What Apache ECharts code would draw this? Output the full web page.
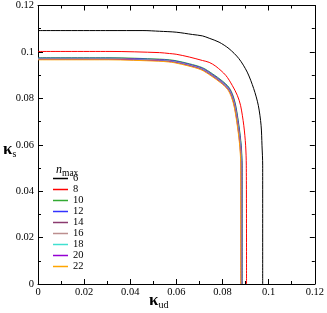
<!DOCTYPE html>
<html><head><meta charset="utf-8">
<script src="https://cdn.jsdelivr.net/npm/echarts@6/dist/echarts.min.js"></script>
<style>html,body{margin:0;padding:0;background:#fff}#c{width:327px;height:313px}</style>
</head><body><div id="c"></div>
<script>
// tick values
var xTicks = [0, 0.02, 0.04, 0.06, 0.08, 0.1, 0.12];
var yTicks = [0, 0.02, 0.04, 0.06, 0.08, 0.1, 0.12];
var nmax = ['6', '8', '10', '12', '14', '16', '18', '20', '22'];
var colors = ['#000000', '#ff0000', '#33aa33', '#3333ff', '#8b3a6f', '#bc8f8f', '#40e0d0', '#9400d3', '#ffa500'];

// kappa_ud (x) and kappa_s (y) for each n_max
var kud6 = [0, 0.0312, 0.0455, 0.0527, 0.0599, 0.0670, 0.0713, 0.0742, 0.0785, 0.0828, 0.0871, 0.0907, 0.0935, 0.0955, 0.0967, 0.0971, 0.0974, 0.0974];
var ks6  = [0.1092, 0.1092, 0.1092, 0.1089, 0.1085, 0.1075, 0.1069, 0.1059, 0.1042, 0.1014, 0.0971, 0.0913, 0.0842, 0.0770, 0.0684, 0.0598, 0.0512, 0];
var kud8 = [0, 0.0312, 0.0527, 0.0570, 0.0599, 0.0656, 0.0713, 0.0742, 0.0771, 0.0814, 0.0842, 0.0864, 0.0878, 0.0892, 0.0900, 0.0903, 0.0904];
var ks8  = [0.1002, 0.1002, 0.0997, 0.0993, 0.0990, 0.0978, 0.0963, 0.0955, 0.0938, 0.0899, 0.0856, 0.0813, 0.0770, 0.0684, 0.0598, 0.0512, 0];
var kud10 = [0, 0.0312, 0.0527, 0.0570, 0.0599, 0.0656, 0.0713, 0.0756, 0.0799, 0.0828, 0.0845, 0.0857, 0.0871, 0.0881, 0.0885, 0.0885];
var ks10  = [0.0975, 0.0975, 0.0969, 0.0966, 0.0962, 0.0949, 0.0932, 0.0906, 0.0875, 0.0847, 0.0813, 0.0770, 0.0684, 0.0598, 0.0512, 0];
var kud12 = [0, 0.0311, 0.0526, 0.0569, 0.0598, 0.0655, 0.0712, 0.0755, 0.0798, 0.0827, 0.0844, 0.0856, 0.0870, 0.0880, 0.0884, 0.0884];
var ks12  = [0.0973, 0.0973, 0.0967, 0.0964, 0.0960, 0.0947, 0.0930, 0.0904, 0.0873, 0.0845, 0.0811, 0.0768, 0.0682, 0.0596, 0.0510, 0];
var kud14 = [0, 0.0310, 0.0525, 0.0568, 0.0597, 0.0654, 0.0711, 0.0754, 0.0797, 0.0826, 0.0843, 0.0855, 0.0869, 0.0879, 0.0883, 0.0883];
var ks14  = [0.0971, 0.0971, 0.0965, 0.0962, 0.0958, 0.0945, 0.0928, 0.0902, 0.0871, 0.0843, 0.0809, 0.0766, 0.0680, 0.0594, 0.0508, 0];
var kud16 = [0, 0.0309, 0.0524, 0.0567, 0.0596, 0.0653, 0.0710, 0.0753, 0.0796, 0.0825, 0.0842, 0.0854, 0.0868, 0.0878, 0.0882, 0.0882];
var ks16  = [0.0970, 0.0970, 0.0964, 0.0961, 0.0957, 0.0944, 0.0927, 0.0901, 0.0870, 0.0842, 0.0808, 0.0765, 0.0679, 0.0593, 0.0507, 0];
var kud18 = [0, 0.0308, 0.0523, 0.0566, 0.0595, 0.0652, 0.0709, 0.0752, 0.0795, 0.0824, 0.0841, 0.0853, 0.0867, 0.0877, 0.0881, 0.0881];
var ks18  = [0.0969, 0.0969, 0.0963, 0.0960, 0.0956, 0.0943, 0.0926, 0.0900, 0.0869, 0.0841, 0.0807, 0.0764, 0.0678, 0.0592, 0.0506, 0];
var kud20 = [0, 0.0307, 0.0522, 0.0565, 0.0594, 0.0651, 0.0708, 0.0751, 0.0794, 0.0823, 0.0840, 0.0852, 0.0866, 0.0876, 0.0880, 0.0880];
var ks20  = [0.0968, 0.0968, 0.0962, 0.0959, 0.0955, 0.0942, 0.0925, 0.0899, 0.0868, 0.0840, 0.0806, 0.0763, 0.0677, 0.0591, 0.0505, 0];
var kud22 = [0, 0.0306, 0.0521, 0.0564, 0.0593, 0.0650, 0.0707, 0.0750, 0.0793, 0.0822, 0.0839, 0.0851, 0.0865, 0.0875, 0.0879, 0.0879];
var ks22  = [0.0966, 0.0966, 0.0960, 0.0957, 0.0953, 0.0940, 0.0923, 0.0897, 0.0866, 0.0838, 0.0804, 0.0761, 0.0675, 0.0589, 0.0503, 0];

var allX = [kud6, kud8, kud10, kud12, kud14, kud16, kud18, kud20, kud22];
var allY = [ks6, ks8, ks10, ks12, ks14, ks16, ks18, ks20, ks22];

var FONT = "'Liberation Serif', 'Times New Roman', serif";
function zip(a, b) { return a.map(function (v, i) { return [v, b[i]]; }); }

var series = nmax.map(function (n, i) {
  return {
    name: n, type: 'line', data: zip(allX[i], allY[i]),
    showSymbol: false, symbol: 'none', smooth: 0.3,
    lineStyle: { color: colors[i], width: 1 }, itemStyle: { color: colors[i] },
    xAxisIndex: 0, yAxisIndex: 0, animation: false
  };
});

function axisBase(pos, showLabel, isX) {
  return {
    type: 'value', position: pos, min: 0, max: 0.12, interval: 0.02,
    axisLine: { show: true, onZero: false, lineStyle: { color: '#000', width: 1 } },
    axisTick: { show: true, inside: true, length: 5, lineStyle: { color: '#000' } },
    minorTick: { show: true, splitNumber: 2, length: 3, lineStyle: { color: '#000' } },
    splitLine: { show: false }, minorSplitLine: { show: false },
    axisLabel: {
      show: showLabel, fontFamily: FONT, fontSize: 10.5, color: '#000',
      margin: isX ? 3 : 4,
      formatter: function (v) { return String(+v.toFixed(2)); }
    }
  };
}

var chart = echarts.init(document.getElementById('c'), null, { renderer: 'canvas' });
chart.setOption({
  animation: false,
  backgroundColor: '#fff',
  grid: { left: 38, right: 10, top: 5, bottom: 29 },
  xAxis: [axisBase('bottom', true, true), axisBase('top', false, true)],
  yAxis: [axisBase('left', true, false), axisBase('right', false, false)],
  legend: {
    orient: 'vertical', left: 53, top: 173, itemWidth: 15, itemHeight: 1.5,
    itemGap: 0, icon: 'rect', selectedMode: false, padding: 0,
    data: nmax,
    textStyle: { fontFamily: FONT, fontSize: 10.5, lineHeight: 10.9, color: '#000', padding: [0, 0, 0, 0] }
  },
  graphic: [
    { type: 'text', left: 56, top: 164, style: { text: '{n|n}{m|max}', rich: {
      n: { fontFamily: FONT, fontSize: 12, fontStyle: 'italic', fill: '#000' },
      m: { fontFamily: FONT, fontSize: 9.5, fill: '#000', padding: [7, 0, 0, 0] } } } },
    { type: 'text', left: 149, top: 292, style: { text: '{k|κ}{s|ud}', rich: {
      k: { fontFamily: FONT, fontSize: 17, fontWeight: 'bold', fill: '#000' },
      s: { fontFamily: FONT, fontSize: 10, fill: '#000', padding: [9, 0, 0, 0] } } } },
    { type: 'text', left: 3, top: 141, style: { text: '{k|κ}{s|s}', rich: {
      k: { fontFamily: FONT, fontSize: 17, fontWeight: 'bold', fill: '#000' },
      s: { fontFamily: FONT, fontSize: 10, fill: '#000', padding: [9, 0, 0, 0] } } } }
  ],
  series: series
});
</script></body></html>
